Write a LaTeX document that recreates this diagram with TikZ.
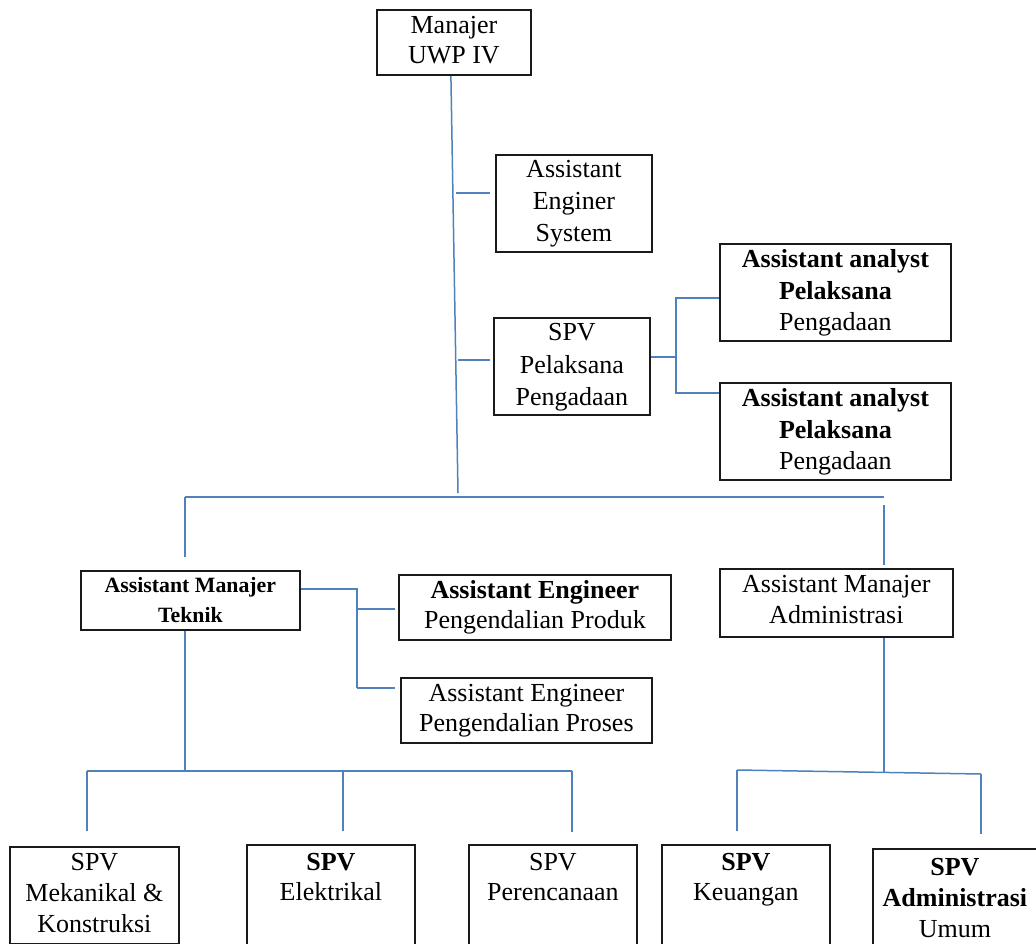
\documentclass[tikz,border=0pt]{standalone}
\usepackage{fontspec}
\setmainfont{Liberation Serif}
\newcommand{\bt}[5]{\parbox[t][#2][t]{#1}{\centering\setlength{\baselineskip}{#4}\rule{0pt}{#3}#5}}
\definecolor{linkblue}{HTML}{4F81BD}
\definecolor{boxline}{HTML}{1A1A1A}
\begin{document}
\begin{tikzpicture}[x=1pt,y=-1pt,
  bx/.style={draw=boxline, line width=1.8pt, inner sep=0pt, anchor=north west, font=\fontsize{26}{32}\selectfont},
  ln/.style={draw=linkblue, line width=1.5pt}]
\useasboundingbox (0,0) rectangle (1036,944);
% boxes
\node[bx] (mgr) at (376,9) {\bt{154pt}{65pt}{24pt}{30pt}{Manajer\\UWP IV}};
\node[bx] (aes) at (495,154) {\bt{156pt}{97pt}{23pt}{32pt}{Assistant\\Enginer\\System}};
\node[bx] (spv) at (493,317) {\bt{156pt}{97pt}{23pt}{32.5pt}{SPV\\Pelaksana\\Pengadaan}};
\node[bx] (an1) at (719,243) {\bt{231pt}{97pt}{24pt}{31.5pt}{\textbf{Assistant analyst}\\\textbf{Pelaksana}\\Pengadaan}};
\node[bx] (an2) at (719,382) {\bt{231pt}{97pt}{24pt}{31.5pt}{\textbf{Assistant analyst}\\\textbf{Pelaksana}\\Pengadaan}};
\node[bx, font=\fontsize{21.8}{30}\selectfont\bfseries] (tek) at (80,570) {\bt{219pt}{59pt}{22pt}{30pt}{Assistant Manajer\\Teknik}};
\node[bx] (prod) at (398,574) {\bt{272pt}{65pt}{24pt}{30pt}{\textbf{Assistant Engineer}\\Pengendalian Produk}};
\node[bx] (pros) at (400,677) {\bt{251pt}{65pt}{24pt}{30pt}{Assistant Engineer\\Pengendalian Proses}};
\node[bx] (adm) at (719,568) {\bt{233pt}{68pt}{24pt}{31pt}{Assistant Manajer\\Administrasi}};
\node[bx] (mek) at (9,846) {\bt{169pt}{97pt}{24pt}{31pt}{SPV\\Mekanikal \&\\Konstruksi}};
\node[bx] (ele) at (246,844) {\bt{168pt}{120pt}{26pt}{30pt}{\textbf{SPV}\\Elektrikal}};
\node[bx] (per) at (468,844) {\bt{168pt}{120pt}{26pt}{30pt}{SPV\\Perencanaan}};
\node[bx] (keu) at (661,844) {\bt{168pt}{120pt}{26pt}{30pt}{\textbf{SPV}\\Keuangan}};
\node[bx] (umu) at (872,848) {\bt{164pt}{120pt}{27pt}{31pt}{\textbf{SPV}\\\textbf{Administrasi}\\Umum}};
% top trunk
\coordinate (m1) at (458,493);
\draw[ln] ([xshift=-3pt]mgr.south) -- (m1);
\coordinate (b1) at (456,193);
\draw[ln, shorten >=5pt] (b1) -- (b1 -| aes.west);
\coordinate (b2) at (458,360);
\draw[ln, shorten >=3pt] (b2) -- (b2 -| spv.west);
% SPV Pelaksana to analysts
\coordinate (s1) at (676,357);
\coordinate (s2) at (676,298);
\coordinate (s3) at (676,393);
\draw[ln] (spv.east |- s1) -- (s1);
\draw[ln] (s2 -| an1.west) -- (s2) -- (s3) -- (s3 -| an2.west);
% main horizontal
\coordinate (h1) at (185,497);
\coordinate (h2) at (884,497);
\coordinate (h3) at (884,505);
\draw[ln] (h1) -- (h2);
\draw[ln, shorten >=13pt] (h1) -- (h1 |- tek.north);
\draw[ln, shorten >=3pt] (h3) -- (h3 |- adm.north);
% Teknik to engineers
\coordinate (t1) at (357,589);
\coordinate (t2) at (357,609);
\coordinate (t3) at (357,688);
\draw[ln] (tek.east |- t1) -- (t1) -- (t3);
\draw[ln, shorten >=3pt] (t2) -- (t2 -| prod.west);
\draw[ln, shorten >=5pt] (t3) -- (t3 -| pros.west);
% Teknik down
\coordinate (k1) at (185,771);
\coordinate (k0) at (87,771);
\coordinate (kk) at (343,771);
\coordinate (k2) at (572,771);
\draw[ln] (k1 |- tek.south) -- (k1);
\draw[ln] (k0) -- (k2);
\draw[ln, shorten >=15pt] (k0) -- (k0 |- mek.north);
\draw[ln, shorten >=13pt] (kk) -- (kk |- ele.north);
\draw[ln, shorten >=12pt] (k2) -- (k2 |- per.north);
% Administrasi down
\coordinate (a1) at (884,772);
\coordinate (a0) at (737,770);
\coordinate (a2) at (981,774);
\draw[ln] (a1 |- adm.south) -- (a1);
\draw[ln] (a0) -- (a2);
\draw[ln, shorten >=13pt] (a0) -- (a0 |- keu.north);
\draw[ln, shorten >=14pt] (a2) -- (a2 |- umu.north);
\end{tikzpicture}
\end{document}
